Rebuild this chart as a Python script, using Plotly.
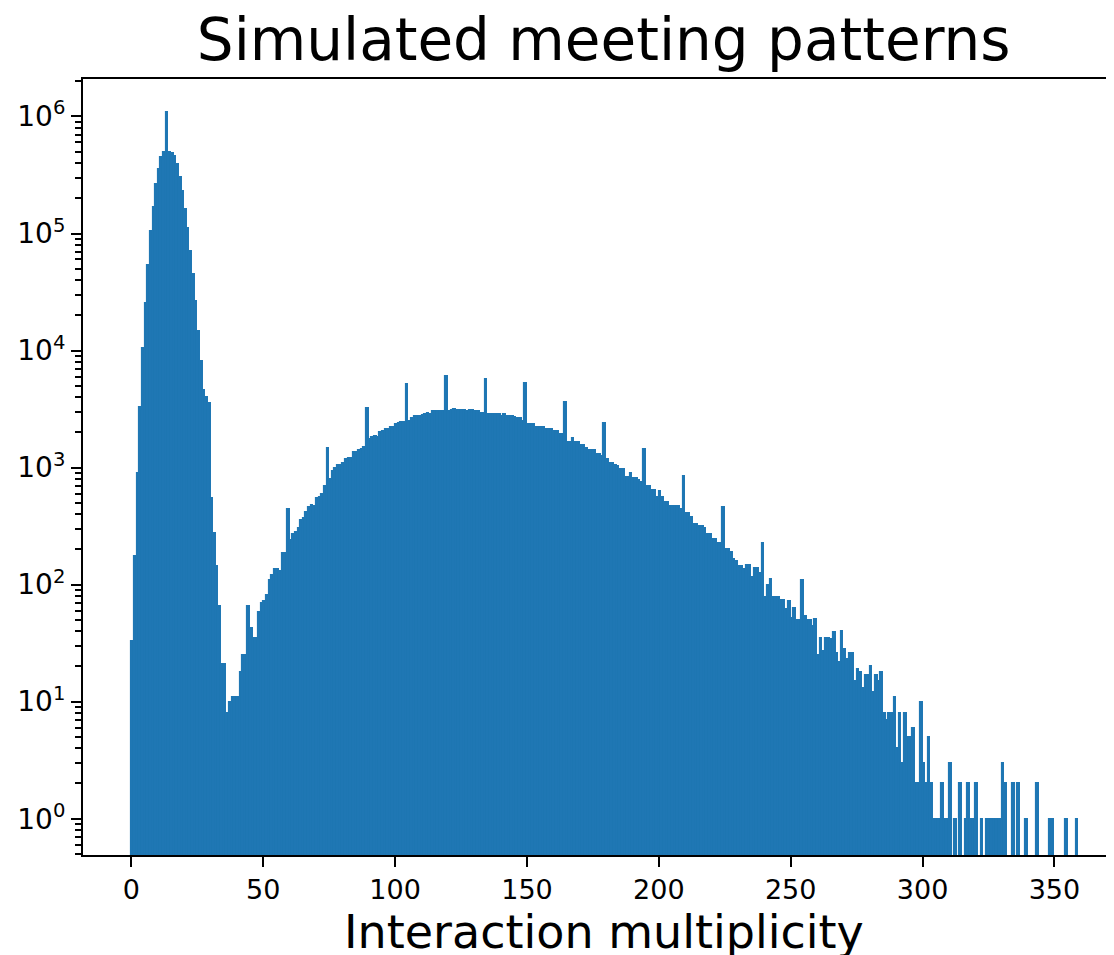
import plotly.graph_objects as go

# histogram counts per unit-wide bin
counts_peak = [
    33, 174, 891, 3311, 10470, 25700, 53700, 104700, 169800, 263000,
    354800, 446700, 495500, 1096000, 495500, 489800, 457100, 389000, 302000, 229100,
    162200, 112200, 70800, 44700, 26300, 14800, 8130, 4570, 3980, 3550,
    550, 275, 145, 66, 21, 21, 8, 10, 11, 11,
    11, 18, 25, 25, 66,
]
counts_rise = [
    43, 35, 35, 58, 69, 73, 81, 110, 120, 135,
    135, 132, 186, 186, 447, 240, 269, 282, 302, 355,
    372, 417, 457, 479, 468, 550, 562, 589, 692, 1479,
    794, 933, 1000, 1047, 1047, 1096, 1175, 1202, 1202, 1349,
    1349, 1413, 1445, 1514, 3236, 1738, 1820, 1862, 1820, 1995,
    2042, 2138, 2138, 2239, 2239, 2371, 2399, 2455, 2455, 5129,
    2512, 2630, 2754, 2754, 2754, 2818, 2884, 2951, 2884, 3020,
    3020, 3020, 3020, 3020, 6026, 3020, 3090, 3162, 3090, 3090,
    3090, 3090, 3020, 3090, 3090, 3020, 3020, 2951, 2951, 5754,
    2884, 2884, 2884, 2884, 2851, 2786, 2851, 2754, 2754, 2754,
    2692, 2630, 2630, 2512, 5248,
]
counts_fall = [
    2344, 2344, 2344, 2239, 2239, 2239, 2239, 2138, 2138, 2138,
    2042, 2042, 1950, 1950, 3631, 1660, 1660, 1778, 1660, 1660,
    1549, 1549, 1479, 1413, 1413, 1413, 1318, 1318, 1259, 2399,
    1175, 1096, 1096, 1047, 1023, 977, 977, 832, 832, 891,
    813, 813, 776, 759, 1445, 692, 692, 646, 646, 562,
    631, 562, 513, 513, 468, 468, 468, 468, 447, 851,
    407, 407, 380, 331, 331, 316, 316, 302, 269, 269,
    245, 245, 229, 229, 457, 200, 200, 191, 166, 158,
    145, 145, 135, 148, 148, 117, 138, 138, 126, 229,
    78, 100, 112, 79, 79, 78,
]
counts_tail = [
    74, 74, 62, 72, 52, 63, 50, 50, 110, 54,
    50, 50, 44, 51, 25, 35, 27, 35, 35, 34,
    39, 26, 22, 40, 28, 23, 26, 26, 15, 19,
    18, 13, 17, 17, 20, 12, 17, 15, 18, 8,
    7, 8, 8, 11, 4, 8, 3, 8, 5, 5,
    6, 2, 2, 10, 3, 2, 5, 2, 1, 1,
    1, 2, 1, 1, 3, 0, 1, 0, 2, 0,
    1, 2, 1, 1, 2, 0, 1, 0, 1, 1,
    1, 1, 1, 1, 3, 2, 0, 0, 2, 0,
    2, 0, 0, 1, 0, 0, 0, 2, 0, 0,
    0, 0, 1, 1, 0, 0, 0, 0, 1, 0,
    0, 0, 1,
]

counts = counts_peak + counts_rise + counts_fall + counts_tail
bin_left = list(range(len(counts)))
bin_mid = [b + 0.5 for b in bin_left]
heights = [c if c > 0 else None for c in counts]

decades = [0, 1, 2, 3, 4, 5, 6]
x_ticks = [0, 50, 100, 150, 200, 250, 300, 350]

minor_vals = [m * 10 ** k for k in range(-1, 7) for m in range(2, 10)]

fig = go.Figure()
fig.add_trace(go.Bar(
    x=bin_mid, y=heights, width=1.0,
    marker=dict(color="#1f77b4", line=dict(width=1.1, color="#1f77b4")),
    hoverinfo="skip",
))

# the page body adds an 8px offset, so the figure is laid out 8px smaller
font = "DejaVu Sans"
fig.update_layout(
    width=1106, height=947,
    margin=dict(l=75, r=0, t=71, b=100),
    paper_bgcolor="white", plot_bgcolor="white",
    bargap=0, showlegend=False,
    font=dict(family=font, color="black"),
    title=dict(text="Simulated meeting patterns", font=dict(size=58, family=font, color="black"),
               x=0.505, xref="paper", xanchor="center", y=0.9667, yref="container", yanchor="middle"),
)
fig.update_xaxes(
    range=[-18.36, 372.6], showgrid=False, zeroline=False,
    tickvals=x_ticks, ticktext=[str(v) for v in x_ticks],
    ticks="outside", ticklen=10, tickwidth=2, tickcolor="black",
    tickfont=dict(size=27, family=font, color="black"),
    showline=True, linecolor="black", linewidth=2, mirror=True,
)
fig.update_yaxes(
    type="log", range=[-0.31, 6.32], showgrid=False, zeroline=False,
    tickvals=[10 ** d for d in decades],
    ticktext=["10<sup>%d</sup>" % d for d in decades],
    ticks="outside", ticklen=10, tickwidth=2, tickcolor="black",
    tickfont=dict(size=28, family=font, color="black"),
    minor=dict(tickvals=minor_vals, ticks="outside", ticklen=6, tickwidth=1.5, tickcolor="black"),
    showline=True, linecolor="black", linewidth=2, mirror=False,
)
fig.add_annotation(
    text="Interaction multiplicity", x=0.505, xref="paper", y=-0.0986, yref="paper",
    xanchor="center", yanchor="middle", showarrow=False,
    font=dict(size=46, family=font, color="black"),
)

fig.write_html("out.html")
